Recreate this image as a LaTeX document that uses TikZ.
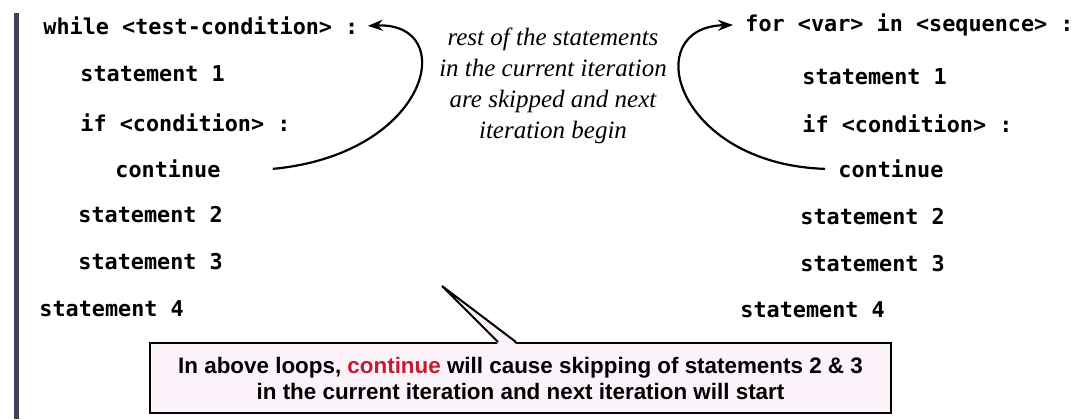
\documentclass[tikz,border=0pt]{standalone}
\usepackage{fontspec}
\setmainfont{Liberation Serif}
\setsansfont{Liberation Sans}
\newfontfamily\codefont{DejaVu Sans Mono}
\usepackage{tikz}
\usetikzlibrary{arrows.meta}
\definecolor{notepink}{RGB}{252,242,250}
\definecolor{kwred}{RGB}{196,28,48}
\definecolor{edgebar}{RGB}{70,62,88}
\tikzset{
  code/.style={font=\codefont\bfseries\fontsize{10.9}{13}\selectfont, anchor=mid west, inner sep=0pt},
  remark/.style={align=center, font=\itshape\fontsize{12.5}{15.5}\selectfont},
  callbox/.style={draw, line width=1pt, fill=notepink, align=center, inner sep=0pt,
    font=\sffamily\bfseries\fontsize{11.2}{13}\selectfont},
  arrow/.style={-{Stealth[length=7.5pt,width=5.5pt]}, line width=1.1pt},
}

\begin{document}
\begin{tikzpicture}[x=0.5pt, y=-0.5pt]
  \useasboundingbox (0,0) rectangle (1091,419);
  \fill[edgebar] (14,13) rectangle (19,419);

  % while loop
  \node[code] (wwhile) at (43,30)  {while <test-condition> :};
  \node[code] (wstmta) at (80,77)  {statement 1};
  \node[code] (wif)    at (80,127) {if <condition> :};
  \node[code] (wcont)  at (115,173) {continue};
  \node[code] (wstmtb) at (78,218) {statement 2};
  \node[code] (wstmtc) at (78,265) {statement 3};
  \node[code] (wstmtd) at (39,312) {statement 4};

  % for loop
  \node[code] (ffor)   at (745,27)  {for <var> in <sequence> :};
  \node[code] (fstmta) at (802,80)  {statement 1};
  \node[code] (fif)    at (802,128) {if <condition> :};
  \node[code] (fcont)  at (838,173) {continue};
  \node[code] (fstmtb) at (800,220) {statement 2};
  \node[code] (fstmtc) at (800,267) {statement 3};
  \node[code] (fstmtd) at (740,313) {statement 4};

  % jumps back to the loop head
  \draw[arrow] ([xshift=26pt]wcont.east) .. controls +(158,-15) and +(92,-4) .. ([xshift=4.5pt]wwhile.east);
  \draw[arrow] ([xshift=-6.5pt]fcont.west) .. controls +(-150,-5) and +(-95,2) .. ([xshift=-6pt]ffor.west);

  \node[remark] (skipnote) at (553,86) {rest of the statements\\in the current iteration\\are skipped and next\\iteration begin};

  % callout
  \node[callbox, minimum width=370.5pt, minimum height=35pt] (summary) at (520.5,378)
    {In above loops, \textcolor{kwred}{continue} will cause skipping of statements 2 \& 3\\in the current iteration and next iteration will start};
  \coordinate (gap) at (442,286);
  \coordinate (tagl) at ([xshift=-11.25pt]summary.north);
  \coordinate (tagr) at ([xshift=-2.25pt]summary.north);
  \fill[notepink] ([yshift=-1pt]tagl) -- (gap) -- ([yshift=-1pt]tagr) -- cycle;
  \draw[line width=1pt, line join=miter] (tagl) -- (gap) -- (tagr);
\end{tikzpicture}
\end{document}
